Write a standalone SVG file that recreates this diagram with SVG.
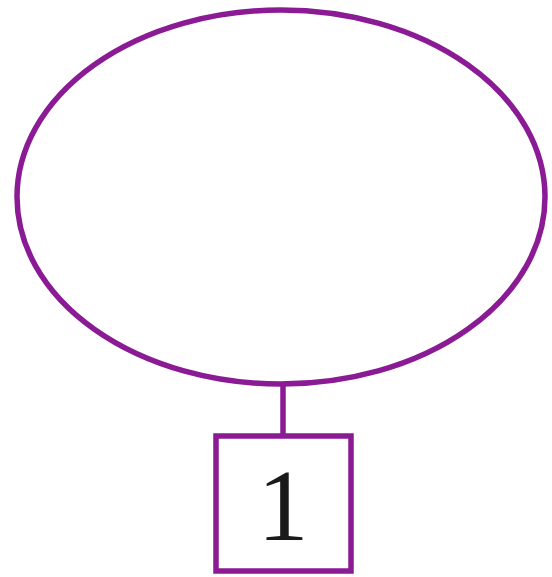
<svg xmlns="http://www.w3.org/2000/svg" width="552" height="577" viewBox="0 0 552 577">
<style>
.s{fill:none;stroke:#8B1A95;stroke-width:5.5}
.t{font-family:"Liberation Serif","Times New Roman",serif;font-size:102px;fill:#1a1a1a;text-anchor:middle}
</style>
<rect width="552" height="577" fill="#fff"/>
<g id="connectors">
<line class="s" x1="283" y1="384" x2="283" y2="436"/>
</g>
<g id="ellipse">
<ellipse class="s" cx="281" cy="197" rx="264" ry="187"/>
</g>
<g id="box1">
<rect class="s" x="216" y="436" width="135" height="135" fill="#fff"/>
<text class="t" x="283" y="540">1</text>
</g>
</svg>
